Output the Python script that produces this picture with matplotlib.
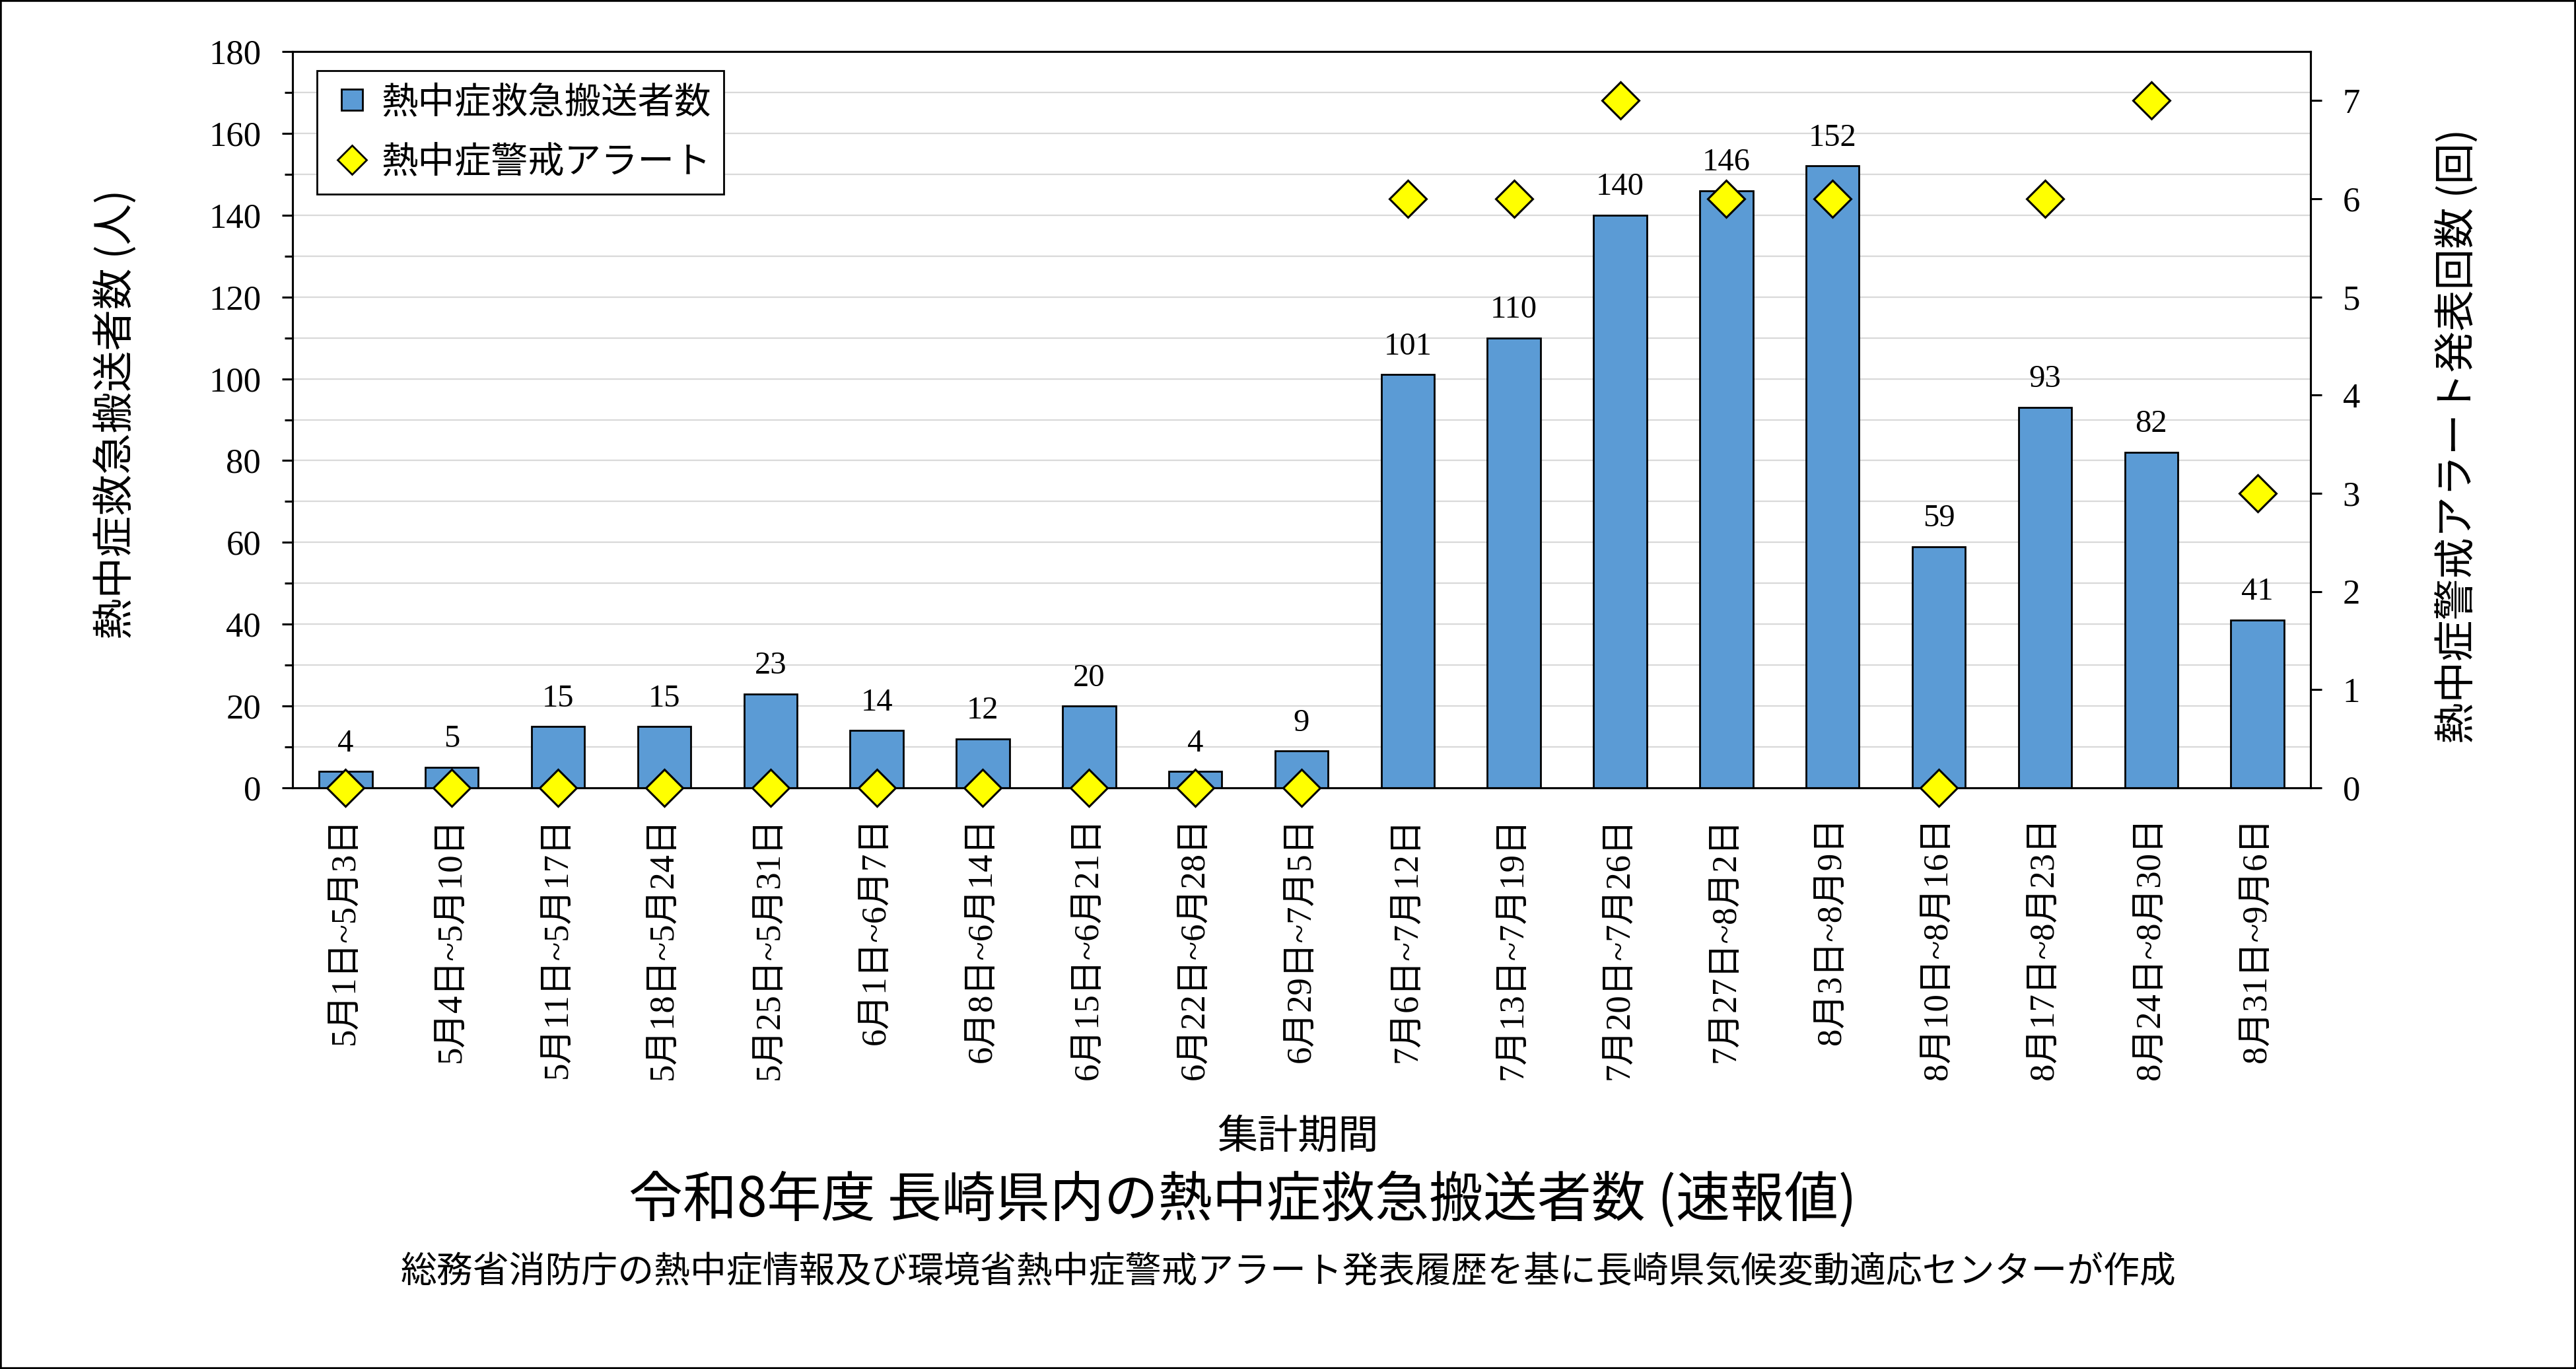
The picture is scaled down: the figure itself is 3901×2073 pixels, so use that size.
import matplotlib
matplotlib.use('Agg')
import matplotlib.pyplot as plt
from matplotlib.lines import Line2D
from matplotlib.patches import Rectangle
import numpy as np

periods = [
    "5月1日~5月3日", "5月4日~5月10日", "5月11日~5月17日", "5月18日~5月24日",
    "5月25日~5月31日", "6月1日~6月7日", "6月8日~6月14日", "6月15日~6月21日",
    "6月22日~6月28日", "6月29日~7月5日", "7月6日~7月12日", "7月13日~7月19日",
    "7月20日~7月26日", "7月27日~8月2日", "8月3日~8月9日", "8月10日~8月16日",
    "8月17日~8月23日", "8月24日~8月30日", "8月31日~9月6日",
]
transport_counts = [4, 5, 15, 15, 23, 14, 12, 20, 4, 9, 101, 110, 140, 146, 152, 59, 93, 82, 41]
alert_counts = [0, 0, 0, 0, 0, 0, 0, 0, 0, 0, 6, 6, 7, 6, 6, 0, 6, 7, 3]

left_ticks = list(range(0, 181, 20))
right_ticks = list(range(0, 8))

series_names = ["熱中症救急搬送者数", "熱中症警戒アラート"]
left_label = "熱中症救急搬送者数 (人)"
right_label = "熱中症警戒アラート発表回数 (回)"
x_label = "集計期間"
title = "令和8年度 長崎県内の熱中症救急搬送者数 (速報値)"
subtitle = "総務省消防庁の熱中症情報及び環境省熱中症警戒アラート発表履歴を基に長崎県気候変動適応センターが作成"

JP = ['Noto Sans CJK JP', 'DejaVu Sans']
SERIF_JP = ['Liberation Serif', 'Noto Sans CJK JP']
BAR_COLOR = '#5B9BD5'
W, H = 3901, 2073

fig = plt.figure(figsize=(W / 100, H / 100), dpi=100)
fig.patch.set_facecolor('white')
L, R, T, B = 443, 3499, 78, 1193
ax = fig.add_axes([L / W, 1 - B / H, (R - L) / W, (B - T) / H])

x = np.arange(len(periods))
ax.bar(x, transport_counts, width=0.5, color=BAR_COLOR, edgecolor='black', linewidth=2, zorder=2)
ax.set_xlim(-0.5, len(periods) - 0.5)
ax.set_ylim(0, 180)
ax.set_yticks(left_ticks)
ax.set_yticks(np.arange(10, 180, 20), minor=True)
ax.yaxis.grid(True, which='both', color='#d9d9d9', lw=1.6)
ax.set_axisbelow(True)
ax.tick_params(axis='y', which='major', direction='out', length=11.5, width=2.2, pad=23,
               labelsize=38, labelfontfamily='Liberation Serif')
ax.tick_params(axis='y', which='minor', direction='out', length=8.5, width=2.2)
ax.set_xticks(x)
ax.set_xticklabels(periods, rotation=90, fontfamily=SERIF_JP, fontsize=38, va='top', ha='center')
ax.tick_params(axis='x', length=0, pad=32)

for i, v in enumerate(transport_counts):
    ax.annotate(str(v), (x[i], v), xytext=(0, 22), textcoords='offset points',
                ha='center', va='baseline', fontsize=35, family='Liberation Serif')

ax2 = ax.twinx()
ax2.set_ylim(0, 7.5)
ax2.set_yticks(right_ticks)
ax2.plot(x, alert_counts, ls='none', marker='D', ms=29, mfc='#FFFF00', mec='black',
         mew=2.2, zorder=3, clip_on=False)
ax2.tick_params(axis='y', direction='out', length=12, width=2.2, pad=23,
                labelsize=38, labelfontfamily='Liberation Serif')

for a in (ax, ax2):
    for s in a.spines.values():
        s.set_linewidth(2.2)
        s.set_color('black')

handles = [
    Line2D([], [], ls='none', marker='s', ms=23, mfc=BAR_COLOR, mec='black', mew=2),
    Line2D([], [], ls='none', marker='D', ms=22, mfc='#FFFF00', mec='black', mew=2),
]
leg = ax2.legend(handles, series_names, loc='upper left', bbox_to_anchor=(0.0121, 0.974),
                 borderaxespad=0, prop={'family': JP, 'size': 40}, frameon=True,
                 fancybox=False, edgecolor='black', framealpha=1, handlelength=1.2,
                 handletextpad=0.2, borderpad=0.35, labelspacing=0.6)
leg.get_frame().set_linewidth(2)

fig.text(176 / W, 1 - 627 / H, left_label, rotation=90, ha='center', va='center',
         family=JP, fontsize=45)
fig.text(3722 / W, 1 - 660 / H, right_label, rotation=90, ha='center', va='center',
         family=JP, fontsize=45)
fig.text(1966 / W, 1 - 1721 / H, x_label, ha='center', va='center', family=JP, fontsize=44)
fig.text(1882 / W, 1 - 1818 / H, title, ha='center', va='center', family=JP, fontsize=59)
fig.text(1951 / W, 1 - 1926 / H, subtitle, ha='center', va='center', family=JP, fontsize=39.5)

fig.patches.append(Rectangle((0, 0), 1, 1, transform=fig.transFigure, fill=False,
                             lw=4, edgecolor='black'))

fig.savefig('out.png', dpi=100, facecolor='white')
